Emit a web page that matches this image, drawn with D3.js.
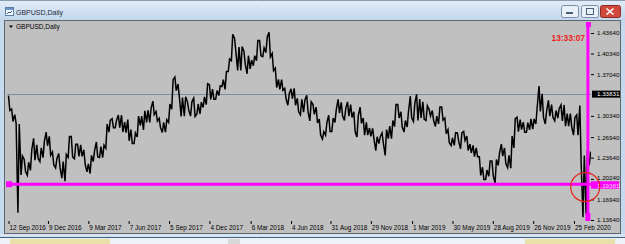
<!DOCTYPE html>
<html>
<head>
<meta charset="utf-8">
<script src="https://cdn.jsdelivr.net/npm/d3@7"></script>
<style>
  body { margin: 0; background: #ffffff; }
  svg text { font-family: "Liberation Sans", Arial, sans-serif; }
</style>
</head>
<body>
<div id="chart"></div>
<script>
// weekly bars (monday of each week)
var weeks = [
  "2016-09-12","2016-09-19","2016-09-26","2016-10-03","2016-10-10","2016-10-17","2016-10-24","2016-10-31",
  "2016-11-07","2016-11-14","2016-11-21","2016-11-28","2016-12-05","2016-12-12","2016-12-19","2016-12-26",
  "2017-01-02","2017-01-09","2017-01-16","2017-01-23","2017-01-30","2017-02-06","2017-02-13","2017-02-20",
  "2017-02-27","2017-03-06","2017-03-13","2017-03-20","2017-03-27","2017-04-03","2017-04-10","2017-04-17",
  "2017-04-24","2017-05-01","2017-05-08","2017-05-15","2017-05-22","2017-05-29","2017-06-05","2017-06-12",
  "2017-06-19","2017-06-26","2017-07-03","2017-07-10","2017-07-17","2017-07-24","2017-07-31","2017-08-07",
  "2017-08-14","2017-08-21","2017-08-28","2017-09-04","2017-09-11","2017-09-18","2017-09-25","2017-10-02",
  "2017-10-09","2017-10-16","2017-10-23","2017-10-30","2017-11-06","2017-11-13","2017-11-20","2017-11-27",
  "2017-12-04","2017-12-11","2017-12-18","2017-12-25","2018-01-01","2018-01-08","2018-01-15","2018-01-22",
  "2018-01-29","2018-02-05","2018-02-12","2018-02-19","2018-02-26","2018-03-05","2018-03-12","2018-03-19",
  "2018-03-26","2018-04-02","2018-04-09","2018-04-16","2018-04-23","2018-04-30","2018-05-07","2018-05-14",
  "2018-05-21","2018-05-28","2018-06-04","2018-06-11","2018-06-18","2018-06-25","2018-07-02","2018-07-09",
  "2018-07-16","2018-07-23","2018-07-30","2018-08-06","2018-08-13","2018-08-20","2018-08-27","2018-09-03",
  "2018-09-10","2018-09-17","2018-09-24","2018-10-01","2018-10-08","2018-10-15","2018-10-22","2018-10-29",
  "2018-11-05","2018-11-12","2018-11-19","2018-11-26","2018-12-03","2018-12-10","2018-12-17","2018-12-24",
  "2018-12-31","2019-01-07","2019-01-14","2019-01-21","2019-01-28","2019-02-04","2019-02-11","2019-02-18",
  "2019-02-25","2019-03-04","2019-03-11","2019-03-18","2019-03-25","2019-04-01","2019-04-08","2019-04-15",
  "2019-04-22","2019-04-29","2019-05-06","2019-05-13","2019-05-20","2019-05-27","2019-06-03","2019-06-10",
  "2019-06-17","2019-06-24","2019-07-01","2019-07-08","2019-07-15","2019-07-22","2019-07-29","2019-08-05",
  "2019-08-12","2019-08-19","2019-08-26","2019-09-02","2019-09-09","2019-09-16","2019-09-23","2019-09-30",
  "2019-10-07","2019-10-14","2019-10-21","2019-10-28","2019-11-04","2019-11-11","2019-11-18","2019-11-25",
  "2019-12-02","2019-12-09","2019-12-16","2019-12-23","2019-12-30","2020-01-06","2020-01-13","2020-01-20",
  "2020-01-27","2020-02-03","2020-02-10","2020-02-17","2020-02-24","2020-03-02","2020-03-09","2020-03-16",
  "2020-03-23","2020-03-30"
];

var weekHigh = [
  1.3360,1.3145,1.3055,1.2905,1.2390,1.2335,1.2290,1.2495,1.2675,1.2570,1.2520,1.2625,1.2775,1.2705,1.2455,1.2350,
  1.2430,1.2300,1.2415,1.2705,1.2705,1.2580,1.2580,1.2570,1.2490,1.2265,1.2400,1.2480,1.2615,1.2540,1.2565,1.2905,
  1.2965,1.2990,1.2965,1.3048,1.3045,1.2935,1.2975,1.2815,1.2760,1.3030,1.3030,1.3115,1.3125,1.3160,1.3270,1.3105,
  1.2995,1.2930,1.2975,1.3225,1.3615,1.3657,1.3545,1.3330,1.3340,1.3260,1.3260,1.3320,1.3225,1.3255,1.3340,1.3550,
  1.3535,1.3465,1.3440,1.3515,1.3615,1.3745,1.3945,1.4345,1.4280,1.4140,1.4145,1.4070,1.4000,1.3930,1.4000,1.4245,
  1.4245,1.4125,1.4300,1.4377,1.4035,1.3800,1.3620,1.3615,1.3475,1.3390,1.3470,1.3475,1.3315,1.3300,1.3290,1.3365,
  1.3260,1.3215,1.3175,1.2985,1.2780,1.2925,1.3045,1.3000,1.3140,1.3298,1.3250,1.3150,1.3260,1.3215,1.3100,1.3040,
  1.3175,1.3000,1.2930,1.2840,1.2835,1.2700,1.2700,1.2760,1.2815,1.2870,1.2960,1.3215,1.3215,1.3100,1.2960,1.3110,
  1.3350,1.3230,1.3380,1.3305,1.3260,1.3195,1.3135,1.3120,1.3030,1.3175,1.3175,1.3000,1.2815,1.2680,1.2765,1.2760,
  1.2760,1.2785,1.2710,1.2580,1.2560,1.2520,1.2380,1.2210,1.2165,1.2310,1.2310,1.2335,1.2440,1.2580,1.2520,1.2400,
  1.2710,1.2990,1.3013,1.2975,1.2935,1.2925,1.2985,1.2985,1.3180,1.3514,1.3390,1.3115,1.3285,1.3215,1.3120,1.3155,
  1.3210,1.3210,1.3070,1.3070,1.3010,1.3050,1.3200,1.2400,1.2485,1.2460
];

var weekLow = [
  1.3120,1.2945,1.2915,1.1480,1.2085,1.2140,1.2080,1.2160,1.2325,1.2350,1.2300,1.2365,1.2555,1.2400,1.2250,1.2200,
  1.2200,1.2035,1.1986,1.2370,1.2375,1.2345,1.2385,1.2385,1.2255,1.2135,1.2110,1.2300,1.2375,1.2365,1.2365,1.2515,
  1.2775,1.2845,1.2845,1.2845,1.2775,1.2765,1.2635,1.2590,1.2590,1.2695,1.2880,1.2810,1.2930,1.2930,1.3055,1.2950,
  1.2845,1.2770,1.2775,1.2930,1.3140,1.3440,1.3340,1.3025,1.3030,1.3125,1.3030,1.3025,1.3060,1.3065,1.3170,1.3215,
  1.3300,1.3300,1.3300,1.3360,1.3505,1.3460,1.3745,1.3920,1.4065,1.3765,1.3765,1.3860,1.3710,1.3790,1.3840,1.3920,
  1.4000,1.3985,1.4050,1.3980,1.3760,1.3490,1.3460,1.3445,1.3305,1.3205,1.3310,1.3205,1.3100,1.3050,1.3095,1.3100,
  1.2955,1.3060,1.2920,1.2725,1.2662,1.2725,1.2785,1.2785,1.2930,1.3080,1.3030,1.2960,1.3030,1.3010,1.2780,1.2695,
  1.2915,1.2725,1.2725,1.2705,1.2660,1.2477,1.2590,1.2590,1.2400,1.2670,1.2670,1.2865,1.3000,1.2855,1.2775,1.2855,
  1.3005,1.2945,1.2960,1.3000,1.2980,1.2960,1.3030,1.2960,1.2865,1.2905,1.2965,1.2750,1.2605,1.2560,1.2560,1.2620,
  1.2505,1.2640,1.2480,1.2440,1.2380,1.2380,1.2080,1.2015,1.2015,1.2065,1.2070,1.1958,1.2240,1.2390,1.2270,1.2205,
  1.2195,1.2520,1.2780,1.2815,1.2770,1.2770,1.2810,1.2820,1.2905,1.3105,1.3010,1.2905,1.3030,1.3010,1.2955,1.3000,
  1.2955,1.2870,1.2870,1.2850,1.2725,1.2725,1.2260,1.1409,1.1450,1.2240
];

// time scale labels
var timeTicks = ["2016-09-12","2016-12-09","2017-03-09","2017-06-07","2017-09-05","2017-12-04","2018-03-06",
  "2018-06-04","2018-08-31","2018-11-29","2019-03-01","2019-05-30","2019-08-28","2019-11-26","2020-02-25"];

// price scale labels
var priceTicks = [1.43640, 1.40340, 1.37040, 1.30340, 1.26940, 1.23640, 1.20240, 1.16940, 1.13640];

var symbolTitle = "GBPUSD,Daily";
var bidPrice = 1.33831;
var alertPrice = 1.19381;
var clockText = "13:33:07";
var markerDate = "2020-03-27";
var ringDate = "2020-03-21", ringPrice = 1.1893;

var parseDate = d3.timeParse("%Y-%m-%d");
var fmtDate = d3.timeFormat("%-d %b %Y");
var fmtPrice = d3.format(".5f");

var plot = {left: 7, right: 591, top: 22, bottom: 221};

// set the ranges
var x = d3.scaleTime()
  .domain([parseDate("2016-09-12"), parseDate("2020-02-25")])
  .range([8.5, 574]);
var y = d3.scaleLinear().domain([1.1364, 1.4364]).range([220, 33]);

var svg = d3.select("#chart").append("svg")
  .attr("width", 625)
  .attr("height", 244);

var defs = svg.append("defs");
var tb = defs.append("linearGradient").attr("id", "tb")
  .attr("x1", 0).attr("y1", 0).attr("x2", 0).attr("y2", 1);
tb.append("stop").attr("offset", "0%").attr("stop-color", "#e4eef9");
tb.append("stop").attr("offset", "100%").attr("stop-color", "#c1d5ec");
defs.append("clipPath").attr("id", "plotclip").append("rect")
  .attr("x", plot.left).attr("y", plot.top)
  .attr("width", plot.right - plot.left).attr("height", plot.bottom - plot.top);

// window frame + title bar
svg.append("rect").attr("width", 625).attr("height", 244).attr("fill", "#c6d9ee");
svg.append("rect").attr("x", 0).attr("y", 0).attr("width", 625).attr("height", 21).attr("fill", "url(#tb)");
svg.append("line").attr("x1", 0).attr("x2", 625).attr("y1", 0.5).attr("y2", 0.5).attr("stroke", "#8c9db0");

// title icon
svg.append("rect").attr("x", 5.5).attr("y", 7.5).attr("width", 8).attr("height", 8)
  .attr("fill", "#f4f8fc").attr("stroke", "#5c7fa8");
svg.append("rect").attr("x", 6).attr("y", 8).attr("width", 7).attr("height", 2).attr("fill", "#6d97c8");
svg.append("path").attr("d", "M7,14 L9,12 L10,13 L12,11").attr("fill", "none").attr("stroke", "#2d5c99");

svg.append("text").attr("x", 16).attr("y", 14.5).text(symbolTitle)
  .style("font-size", "7px").attr("fill", "#1b2a3b");

// window buttons
function winButton(bx, w, fill, stroke) {
  svg.append("rect").attr("x", bx + 0.5).attr("y", 5.5).attr("width", w).attr("height", 12)
    .attr("rx", 2).attr("fill", fill).attr("stroke", stroke);
}
winButton(561, 17, "#e9f0f8", "#7c90a8");
winButton(581, 17, "#e9f0f8", "#7c90a8");
winButton(600, 20, "#cf4a3c", "#8e2a22");
svg.append("rect").attr("x", 566).attr("y", 12).attr("width", 7).attr("height", 2).attr("fill", "#4a5f78");
svg.append("rect").attr("x", 586.5).attr("y", 8.5).attr("width", 7).attr("height", 6)
  .attr("fill", "none").attr("stroke", "#4a5f78");
svg.append("path").attr("d", "M606.5,8.5 L613.5,14.5 M613.5,8.5 L606.5,14.5")
  .attr("stroke", "#ffffff").attr("stroke-width", 1.6);

// chart client area
svg.append("rect").attr("x", 4.5).attr("y", 20.5).attr("width", 616).attr("height", 213)
  .attr("fill", "#c0c0c0").attr("stroke", "#5e6670");

// bottom strip (next window)
svg.append("rect").attr("x", 0).attr("y", 234).attr("width", 625).attr("height", 10).attr("fill", "#d6e3f1");
svg.append("line").attr("x1", 0).attr("x2", 625).attr("y1", 237.5).attr("y2", 237.5).attr("stroke", "#3f6180");
svg.append("rect").attr("x", 0).attr("y", 238).attr("width", 625).attr("height", 6).attr("fill", "#eef2f6");
[[10, 100, "#e8e0a8"], [228, 12, "#d8d8d8"], [525, 90, "#e8e0a8"]].forEach(function(b) {
  svg.append("rect").attr("x", b[0]).attr("y", 239).attr("width", b[1]).attr("height", 5).attr("fill", b[2]);
});

// symbol label inside chart
svg.append("path").attr("d", "M9,25.5 L13,25.5 L11,28 Z").attr("fill", "#000");
svg.append("text").attr("x", 16).attr("y", 29).text(symbolTitle)
  .style("font-size", "6.5px").attr("fill", "#000");

// price scale
var yAxis = svg.append("g")
  .attr("transform", "translate(" + plot.right + ",0)")
  .call(d3.axisRight(y).tickValues(priceTicks).tickFormat(fmtPrice).tickSize(3).tickPadding(3));
yAxis.select(".domain").remove();
yAxis.selectAll("line").attr("stroke", "#000");
yAxis.selectAll("text").style("font-size", "6.2px").attr("fill", "#000")
  .style("font-family", "'Liberation Sans', Arial, sans-serif")
  .attr("dy", function(d) { return d === 1.2024 ? "0.1em" : "0.32em"; });

// time scale
var xAxis = svg.append("g")
  .attr("transform", "translate(0," + plot.bottom + ")")
  .call(d3.axisBottom(x).tickValues(timeTicks.map(parseDate)).tickFormat(fmtDate).tickSize(3));
xAxis.select(".domain").remove();
xAxis.selectAll("line").attr("stroke", "#000");
xAxis.selectAll("text").style("font-size", "6.4px").attr("fill", "#000")
  .style("font-family", "'Liberation Sans', Arial, sans-serif")
  .attr("text-anchor", "start").attr("x", 0.5).attr("y", 4);

// bid line
svg.append("line")
  .attr("x1", plot.left).attr("x2", plot.right)
  .attr("y1", Math.round(y(bidPrice)) + 0.5).attr("y2", Math.round(y(bidPrice)) + 0.5)
  .attr("stroke", "#7c8fa6").attr("stroke-width", 1);

// price bars: each week as a zigzag between its extremes
var pts = [];
weeks.forEach(function(w, i) {
  var d0 = parseDate(w);
  var d1 = d3.timeDay.offset(d0, 3);
  var mid = (weekHigh[i] + weekLow[i]) / 2;
  var nextMid = i < weeks.length - 1 ? (weekHigh[i + 1] + weekLow[i + 1]) / 2 : mid;
  if (nextMid >= mid) {
    pts.push([d0, weekLow[i]]); pts.push([d1, weekHigh[i]]);
  } else {
    pts.push([d0, weekHigh[i]]); pts.push([d1, weekLow[i]]);
  }
});
var priceLine = d3.line()
  .x(function(d) { return x(d[0]); })
  .y(function(d) { return y(d[1]); });
svg.append("path")
  .datum(pts)
  .attr("clip-path", "url(#plotclip)")
  .attr("d", priceLine)
  .attr("fill", "none")
  .attr("stroke", "#000")
  .attr("stroke-width", 1.5)
  .attr("stroke-linejoin", "miter");

// alert line (magenta)
var ay = y(alertPrice);
svg.append("line").attr("x1", plot.left).attr("x2", plot.right)
  .attr("y1", ay).attr("y2", ay).attr("stroke", "#ff00ff").attr("stroke-width", 3);
svg.append("rect").attr("x", 6).attr("y", ay - 3).attr("width", 6).attr("height", 6).attr("fill", "#ff00ff");

// vertical marker line (magenta)
var mx = x(parseDate(markerDate));
svg.append("line").attr("x1", mx).attr("x2", mx).attr("y1", plot.top).attr("y2", plot.bottom)
  .attr("stroke", "#ff00ff").attr("stroke-width", 3);
svg.append("rect").attr("x", mx - 2).attr("y", plot.top).attr("width", 5).attr("height", 5).attr("fill", "#ff00ff");
svg.append("rect").attr("x", mx - 2.5).attr("y", plot.bottom - 8).attr("width", 5).attr("height", 8).attr("fill", "#ff00ff");

// price labels on the scale
var by = y(bidPrice);
svg.append("rect").attr("x", plot.right + 1).attr("y", by - 3.5).attr("width", 28).attr("height", 7).attr("fill", "#000");
svg.append("text").attr("x", plot.right + 6).attr("y", by).attr("dy", "0.34em")
  .text(fmtPrice(bidPrice)).style("font-size", "6.2px").attr("fill", "#fff");
svg.append("rect").attr("x", plot.right).attr("y", ay - 3).attr("width", 28).attr("height", 7.5).attr("fill", "#ff00ff");
svg.append("text").attr("x", plot.right + 6).attr("y", ay + 1.2).attr("dy", "0.34em")
  .text(fmtPrice(alertPrice)).style("font-size", "6.2px").attr("fill", "#ffd6ff");

// server clock
svg.append("text").attr("x", 585).attr("y", 41).attr("text-anchor", "end")
  .text(clockText).style("font-size", "8.4px").style("font-weight", "bold").attr("fill", "#ee1c1c");

// hand drawn ring
svg.append("ellipse")
  .attr("cx", x(parseDate(ringDate))).attr("cy", y(ringPrice))
  .attr("rx", 14.5).attr("ry", 14.5)
  .attr("fill", "none").attr("stroke", "#e4261f").attr("stroke-width", 1.2);
</script>
</body>
</html>
